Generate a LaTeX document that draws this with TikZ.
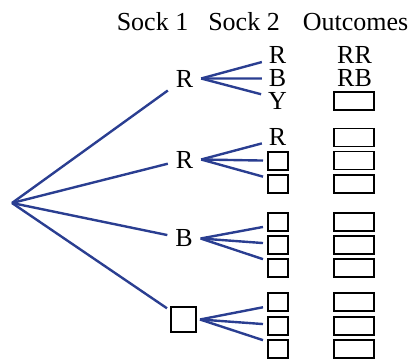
\documentclass[tikz,border=0pt]{standalone}
\usepackage{fontspec}
\setmainfont{Liberation Serif}
\usepackage{tikz}
\usetikzlibrary{calc}
\definecolor{treeblue}{RGB}{42,62,145}

\begin{document}
\begin{tikzpicture}[x=1pt, y=-1pt, font=\fontsize{26}{29}\selectfont,
  branch/.style={treeblue, line width=2.4pt},
  first/.style={inner sep=2pt, outer sep=6pt},
  second/.style={inner sep=2pt, outer sep=5pt},
  blank/.style={draw, line width=1.3pt, fill=white, inner sep=0pt},
  pick/.style={blank, minimum width=20pt, minimum height=18pt, outer sep=5pt},
  outcome/.style={blank, minimum width=40pt, minimum height=18pt}]
\useasboundingbox (0,0) rectangle (411,358);
% Headings
\node[anchor=base] (h1) at (152.5,31) {Sock 1};
\node[anchor=base] (h2) at (244,31) {Sock 2};
\node[anchor=base] (h3) at (355.5,31) {Outcomes};
% First sock
\coordinate (root) at (12,203);
\node[first] (a) at (184.5,78.5) {R};
\node[first] (b) at (184.5,159.5) {R};
\node[first] (c) at (184,238.5) {B};
\node[blank, minimum size=25pt, outer sep=4pt] (d) at (183.5,319.5) {};
\foreach \n in {a,b,c,d} \draw[branch] (root) -- (\n);
% Second sock
\node[second] (a1) at (277.5,55) {R};
\node[second] (a2) at (277.5,78.5) {B};
\node[second] (a3) at (277.5,101) {Y};
\node[second] (b1) at (277.5,136.5) {R};
\node[pick] (b2) at (278,161) {};
\node[pick] (b3) at (278,184) {};
\foreach \y [count=\i] in {222,245,268} \node[pick] (c\i) at (278,\y) {};
\foreach \y [count=\i] in {302,326,349} \node[pick] (d\i) at (278,\y) {};
\foreach \n in {a,b,c,d}
  \foreach \i in {1,2,3}
    \draw[branch] (\n.east) -- ($(\n\i.west)!0.3!(\n\i.west |- \n.east)$);
% Outcomes
\node (ao1) at (354.5,55) {RR};
\node (ao2) at (354.5,78.5) {RB};
\node[outcome] (ao3) at (354,101) {};
\foreach \y [count=\i] in {137.5,160.5,184} \node[outcome] (bo\i) at (354,\y) {};
\foreach \y [count=\i] in {222,245,268} \node[outcome] (co\i) at (354,\y) {};
\foreach \y [count=\i] in {302,326,349} \node[outcome] (do\i) at (354,\y) {};
\end{tikzpicture}
\end{document}
